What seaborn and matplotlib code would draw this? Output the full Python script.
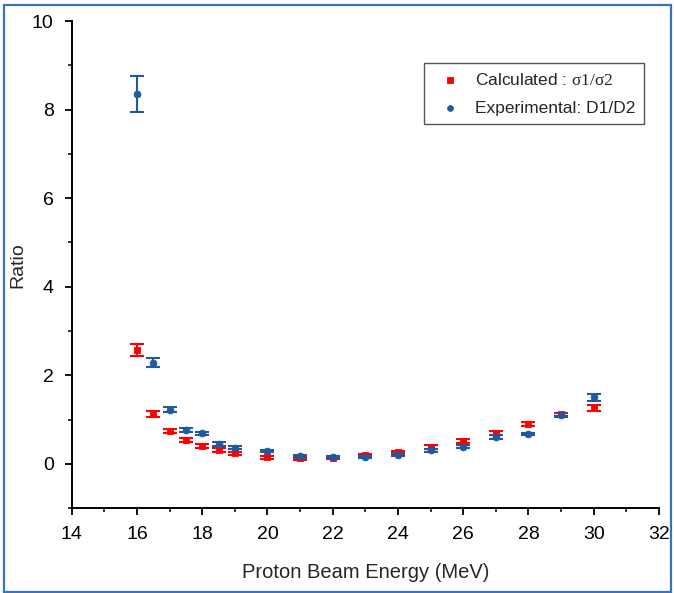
import matplotlib
matplotlib.use("Agg")
import matplotlib.pyplot as plt
import seaborn as sns
import pandas as pd
from matplotlib.patches import Rectangle
from matplotlib.ticker import MultipleLocator

energy = [16, 16.5, 17, 17.5, 18, 18.5, 19, 20, 21, 22, 23, 24, 25, 26, 27, 28, 29, 30]
calc_ratio = [2.58, 1.13, 0.74, 0.54, 0.41, 0.32, 0.24, 0.15, 0.13, 0.14, 0.20, 0.26, 0.38, 0.52, 0.70, 0.90, 1.12, 1.27]
calc_err = [0.14, 0.06, 0.04, 0.04, 0.04, 0.04, 0.04, 0.04, 0.04, 0.03, 0.03, 0.03, 0.04, 0.04, 0.04, 0.05, 0.04, 0.07]
exp_ratio = [8.35, 2.29, 1.23, 0.77, 0.69, 0.45, 0.37, 0.29, 0.17, 0.16, 0.16, 0.21, 0.31, 0.39, 0.61, 0.68, 1.10, 1.51]
exp_err = [0.41, 0.11, 0.05, 0.04, 0.04, 0.04, 0.04, 0.03, 0.04, 0.03, 0.03, 0.03, 0.03, 0.04, 0.04, 0.03, 0.04, 0.08]

labels = ["Calculated : $\\mathrm{σ1/σ2}$", "Experimental: D1/D2"]
RED = "#ff0000"
BLUE = "#1f5a9e"

sns.set_style("ticks")
plt.rcParams["font.family"] = ["Liberation Sans", "DejaVu Sans"]
plt.rcParams["mathtext.fontset"] = "custom"
plt.rcParams["mathtext.rm"] = "Liberation Serif"

calc_df = pd.DataFrame({"energy": energy, "ratio": calc_ratio, "err": calc_err})
exp_df = pd.DataFrame({"energy": energy, "ratio": exp_ratio, "err": exp_err})

fig = plt.figure(figsize=(6.74, 5.93), dpi=100)
ax = fig.add_axes([71.7 / 674, 1 - 508.3 / 593, (659 - 71.7) / 674, (508.3 - 21) / 593])

ax.errorbar(calc_df["energy"], calc_df["ratio"], yerr=calc_df["err"], fmt="none",
            ecolor=RED, elinewidth=1.5, capsize=5, capthick=1.5, zorder=2)
ax.errorbar(exp_df["energy"], exp_df["ratio"], yerr=exp_df["err"], fmt="none",
            ecolor=BLUE, elinewidth=1.5, capsize=5, capthick=1.5, zorder=2)
sns.scatterplot(data=calc_df, x="energy", y="ratio", marker="s", s=20, color=RED,
                edgecolor=RED, linewidth=0.6, label=labels[0], ax=ax, zorder=3)
sns.scatterplot(data=exp_df, x="energy", y="ratio", marker="o", s=24, color=BLUE,
                edgecolor=BLUE, linewidth=0.6, label=labels[1], ax=ax, zorder=3)

ax.set_xlim(14, 32)
ax.set_ylim(-1, 10)
ax.xaxis.set_major_locator(MultipleLocator(2))
ax.xaxis.set_minor_locator(MultipleLocator(1))
ax.yaxis.set_major_locator(MultipleLocator(2))
ax.yaxis.set_minor_locator(MultipleLocator(1))
for s in ["top", "right"]:
    ax.spines[s].set_visible(False)
for s in ["left", "bottom"]:
    ax.spines[s].set_linewidth(1.4)
    ax.spines[s].set_color("black")
ax.tick_params(which="major", direction="out", length=5, width=1.3, labelsize=14,
               colors="black", pad=8)
ax.tick_params(which="minor", direction="out", length=3, width=1.3)

ax.set_xlabel("Proton Beam Energy (MeV)", fontsize=14.5, labelpad=14)
ax.set_ylabel("Ratio", fontsize=14, labelpad=4)

leg = ax.legend(loc="upper right", bbox_to_anchor=(0.9745, 0.914), fontsize=12.5,
                frameon=True, fancybox=False, edgecolor="#555555", framealpha=1,
                borderaxespad=0, handletextpad=0.45, borderpad=0.5, labelspacing=0.75,
                handlelength=2.0, markerscale=0.85)
leg.get_frame().set_linewidth(1.0)

fig.patches.append(Rectangle((4 / 674, 1.5 / 593), 667 / 674, 587 / 593,
                             transform=fig.transFigure, fill=False,
                             edgecolor="#3a72c0", linewidth=1.6))

fig.savefig("out.png", dpi=100)
